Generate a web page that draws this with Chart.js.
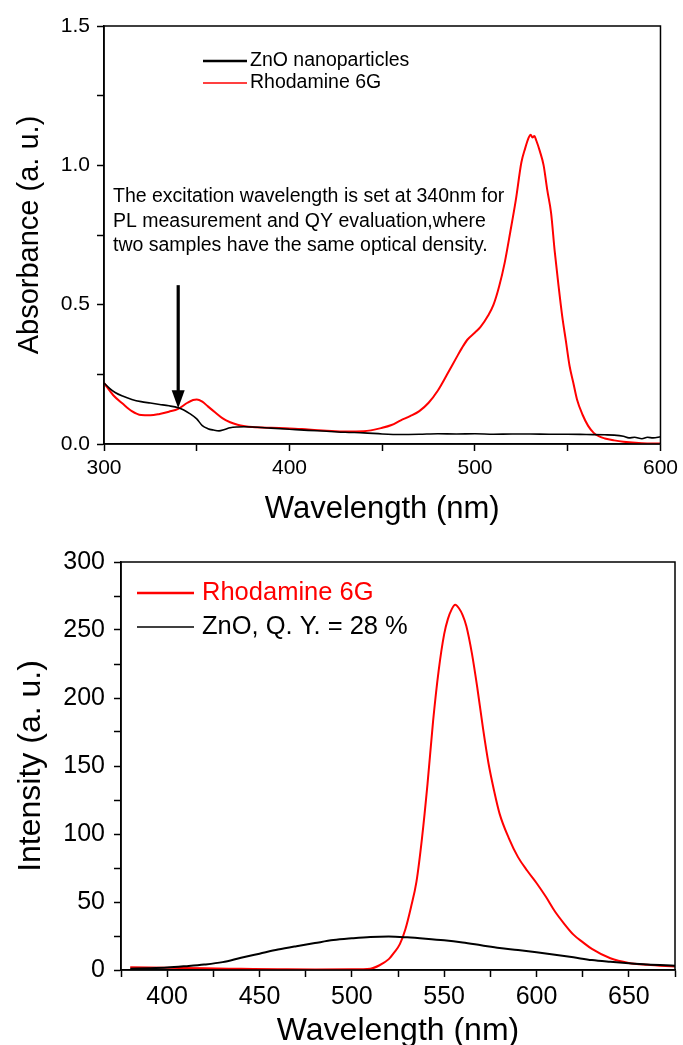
<!DOCTYPE html>
<html>
<head>
<meta charset="utf-8">
<script src="https://cdn.jsdelivr.net/npm/chart.js@4.4.0/dist/chart.umd.min.js"></script>
<style>
  html, body { margin: 0; padding: 0; background: #fff; }
  #wrap { position: relative; width: 683px; height: 1045px; }
  canvas { position: absolute; left: 0; }
</style>
</head>
<body>
<div id="wrap">
  <canvas id="absChart" width="683" height="530" style="top:0px"></canvas>
  <canvas id="plChart" width="683" height="515" style="top:530px"></canvas>
</div>
<script>
// ---- absorbance (top) ----
const absZnoWl = [300, 303, 306, 310, 315, 320, 325, 330, 335, 340, 343, 346, 350, 353, 356, 359, 362, 365, 368, 372, 376, 380, 390, 400, 410, 420, 430, 440, 450, 460, 470, 480, 490, 500, 510, 520, 530, 540, 550, 560, 570, 575, 580, 583, 586, 590, 593, 596, 600];
const absZnoVal = [0.219, 0.200, 0.185, 0.172, 0.160, 0.152, 0.147, 0.142, 0.137, 0.130, 0.122, 0.110, 0.090, 0.066, 0.055, 0.050, 0.047, 0.052, 0.058, 0.061, 0.062, 0.061, 0.057, 0.053, 0.049, 0.046, 0.042, 0.040, 0.036, 0.034, 0.035, 0.037, 0.036, 0.037, 0.035, 0.036, 0.036, 0.035, 0.035, 0.034, 0.033, 0.032, 0.028, 0.022, 0.024, 0.019, 0.024, 0.022, 0.026];

const absR6gWl = [300, 305, 310, 315, 320, 325, 330, 335, 340, 345, 348, 350, 353, 356, 360, 364, 368, 372, 376, 380, 390, 400, 410, 420, 430, 440, 450, 455, 460, 465, 470, 475, 480, 485, 490, 493, 496, 500, 503, 507, 510, 513, 516, 519, 522, 525, 527, 529, 530, 531, 532, 533, 535, 537, 539, 541, 543, 545, 547, 549, 551, 553, 555, 558, 561, 564, 567, 570, 575, 580, 590, 600];
const absR6gVal = [0.219, 0.175, 0.145, 0.118, 0.104, 0.103, 0.108, 0.116, 0.126, 0.148, 0.158, 0.160, 0.152, 0.135, 0.113, 0.092, 0.078, 0.069, 0.064, 0.061, 0.058, 0.056, 0.052, 0.048, 0.045, 0.046, 0.058, 0.068, 0.085, 0.100, 0.118, 0.148, 0.192, 0.250, 0.310, 0.345, 0.375, 0.400, 0.420, 0.460, 0.500, 0.565, 0.650, 0.760, 0.875, 1.010, 1.060, 1.100, 1.110, 1.100, 1.105, 1.090, 1.050, 1.000, 0.910, 0.830, 0.690, 0.570, 0.460, 0.370, 0.280, 0.220, 0.160, 0.105, 0.065, 0.040, 0.027, 0.020, 0.013, 0.008, 0.003, 0.002];

const absXMajor = [300, 400, 500, 600];
const absYMajor = [0, 0.5, 1.0, 1.5];
const absLegend = ['ZnO nanoparticles', 'Rhodamine 6G'];
const noteLines = ['The excitation wavelength is set at 340nm for', 'PL measurement and QY evaluation,where', 'two samples have the same optical density.'];
const arrowWl = 340, arrowFrom = 0.57, arrowTo = 0.128;

// ---- photoluminescence (bottom) ----
const plZnoWl = [380, 390, 400, 410, 420, 430, 440, 450, 460, 470, 480, 490, 500, 510, 520, 530, 540, 550, 560, 570, 580, 590, 600, 610, 620, 630, 640, 650, 660, 675];
const plZnoVal = [1.0, 1.3, 1.8, 2.8, 4.0, 5.8, 9.0, 12.0, 15.0, 17.5, 19.8, 22.0, 23.3, 24.3, 24.6, 24.0, 23.0, 21.8, 20.2, 18.2, 16.2, 14.7, 13.0, 11.2, 9.3, 7.3, 6.0, 4.9, 4.0, 3.2];

const plR6gWl = [380, 400, 420, 440, 460, 480, 500, 510, 515, 520, 523, 526, 529, 532, 535, 538, 541, 544, 547, 550, 552, 554, 556, 558, 560, 562, 565, 568, 571, 574, 577, 580, 585, 590, 595, 600, 605, 610, 615, 620, 625, 630, 640, 650, 660, 675];
const plR6gVal = [2.0, 1.6, 1.2, 0.9, 0.6, 0.4, 0.5, 1.0, 3.5, 8.0, 13.0, 19.0, 30.0, 46.0, 65.0, 97.0, 137.0, 183.0, 220.0, 247.0, 258.0, 265.0, 268.5, 266.0, 261.0, 253.0, 233.0, 207.0, 178.0, 152.0, 132.0, 115.0, 97.0, 83.0, 73.0, 64.0, 54.0, 43.0, 34.0, 26.0, 20.5, 15.5, 8.6, 5.2, 3.8, 2.5];

const plXMajor = [400, 450, 500, 550, 600, 650];
const plYMajor = [0, 50, 100, 150, 200, 250, 300];
const plLegend = ['Rhodamine 6G', 'ZnO, Q. Y. = 28 %'];

const FONT = '"Liberation Sans", Arial, sans-serif';
Chart.defaults.font.family = FONT;
Chart.defaults.color = '#000';

const pts = (xs, ys) => xs.map((x, i) => ({ x: x, y: ys[i] }));
const isMajor = (list, v) => list.some(m => Math.abs(m - v) < 1e-9);

function makeAxis(opts) {
  return {
    type: 'linear',
    min: opts.min, max: opts.max,
    afterFit: opts.fit,
    border: { display: true, color: '#000', width: 1.5 },
    grid: { drawOnChartArea: false, drawTicks: true, tickLength: 7, tickColor: '#000', tickWidth: 1.5 },
    ticks: {
      stepSize: opts.step, autoSkip: false, maxRotation: 0, padding: opts.pad, color: '#000',
      font: { size: opts.tickSize },
      callback: v => isMajor(opts.major, v) ? opts.fmt(v) : ''
    },
    title: { display: true, text: opts.title, color: '#000', font: { size: opts.titleSize, lineHeight: 1.1 }, padding: opts.titlePad }
  };
}

const frame = {
  id: 'frame',
  afterDatasetsDraw(chart) {
    const { ctx, chartArea: a } = chart;
    ctx.save();
    ctx.strokeStyle = '#000';
    ctx.lineWidth = 1.5;
    ctx.strokeRect(a.left, a.top, a.right - a.left, a.bottom - a.top);
    ctx.restore();
  }
};

function drawLegend(ctx, labels, colors, widths, textColors, x0, x1, tx, ys, size) {
  ctx.save();
  ctx.font = size + 'px ' + FONT;
  ctx.textBaseline = 'middle';
  labels.forEach((lab, i) => {
    ctx.strokeStyle = colors[i];
    ctx.lineWidth = widths[i];
    ctx.beginPath();
    ctx.moveTo(x0, ys[i]);
    ctx.lineTo(x1, ys[i]);
    ctx.stroke();
    ctx.fillStyle = textColors[i];
    ctx.fillText(lab, tx, ys[i]);
  });
  ctx.restore();
}

const absNotes = {
  id: 'absNotes',
  afterDraw(chart) {
    const { ctx, scales: { x, y } } = chart;
    drawLegend(ctx, absLegend, ['#000', '#ff0000'], [2.5, 1.5], ['#000', '#000'], 203, 247, 250, [61, 83], 19.5);
    ctx.save();
    ctx.font = '19.5px ' + FONT;
    ctx.fillStyle = '#000';
    ctx.textBaseline = 'middle';
    noteLines.forEach((t, i) => ctx.fillText(t, 113, 197 + i * 24.5));
    // arrow at the excitation wavelength
    const ax = x.getPixelForValue(arrowWl);
    const y0 = y.getPixelForValue(arrowFrom);
    const y1 = y.getPixelForValue(arrowTo);
    ctx.strokeStyle = '#000';
    ctx.lineWidth = 3.2;
    ctx.beginPath();
    ctx.moveTo(ax, y0);
    ctx.lineTo(ax, y1 - 12);
    ctx.stroke();
    ctx.beginPath();
    ctx.moveTo(ax - 6.5, y1 - 18);
    ctx.lineTo(ax + 6.5, y1 - 18);
    ctx.lineTo(ax, y1);
    ctx.closePath();
    ctx.fill();
    ctx.restore();
  }
};

const plNotes = {
  id: 'plNotes',
  afterDraw(chart) {
    drawLegend(chart.ctx, plLegend, ['#ff0000', '#000'], [2.5, 1.5], ['#ff0000', '#000'], 137, 194, 202, [63, 97], 25.5);
  }
};

new Chart(document.getElementById('absChart'), {
  type: 'line',
  data: {
    datasets: [
      { label: absLegend[0], data: pts(absZnoWl, absZnoVal), borderColor: '#000', borderWidth: 1.6, pointRadius: 0, cubicInterpolationMode: 'monotone' },
      { label: absLegend[1], data: pts(absR6gWl, absR6gVal), borderColor: '#ff0000', borderWidth: 2, pointRadius: 0, cubicInterpolationMode: 'monotone' }
    ]
  },
  options: {
    responsive: false,
    animation: false,
    layout: { padding: { top: 26, right: 19, left: 0, bottom: 0 } },
    plugins: { legend: { display: false }, tooltip: { enabled: false } },
    scales: {
      x: makeAxis({ min: 300, max: 600, step: 50, major: absXMajor, fmt: v => String(v), tickSize: 21, pad: 5,
        title: 'Wavelength (nm)', titleSize: 31, titlePad: { top: 0, bottom: 3 }, fit: s => { s.height = 86; } }),
      y: makeAxis({ min: 0, max: 1.5, step: 0.25, major: absYMajor, fmt: v => v.toFixed(1), tickSize: 21, pad: 7,
        title: 'Absorbance (a. u.)', titleSize: 29, titlePad: { top: 14, bottom: 0 }, fit: s => { s.width = 104; } })
    }
  },
  plugins: [frame, absNotes]
});

new Chart(document.getElementById('plChart'), {
  type: 'line',
  data: {
    datasets: [
      { label: plLegend[1], data: pts(plZnoWl, plZnoVal), borderColor: '#000', borderWidth: 2, pointRadius: 0, cubicInterpolationMode: 'monotone' },
      { label: plLegend[0], data: pts(plR6gWl, plR6gVal), borderColor: '#ff0000', borderWidth: 2, pointRadius: 0, cubicInterpolationMode: 'monotone' }
    ]
  },
  options: {
    responsive: false,
    animation: false,
    layout: { padding: { top: 32, right: 8, left: 0, bottom: 0 } },
    plugins: { legend: { display: false }, tooltip: { enabled: false } },
    scales: {
      x: makeAxis({ min: 375, max: 675, step: 25, major: plXMajor, fmt: v => String(v), tickSize: 25, pad: 5,
        title: 'Wavelength (nm)', titleSize: 32, titlePad: { top: 0, bottom: -4 }, fit: s => { s.height = 75; } }),
      y: makeAxis({ min: 0, max: 300, step: 25, major: plYMajor, fmt: v => String(v), tickSize: 25, pad: 9,
        title: 'Intensity (a. u.)', titleSize: 32, titlePad: { top: 14, bottom: 0 }, fit: s => { s.width = 121; } })
    }
  },
  plugins: [frame, plNotes]
});
</script>
</body>
</html>
